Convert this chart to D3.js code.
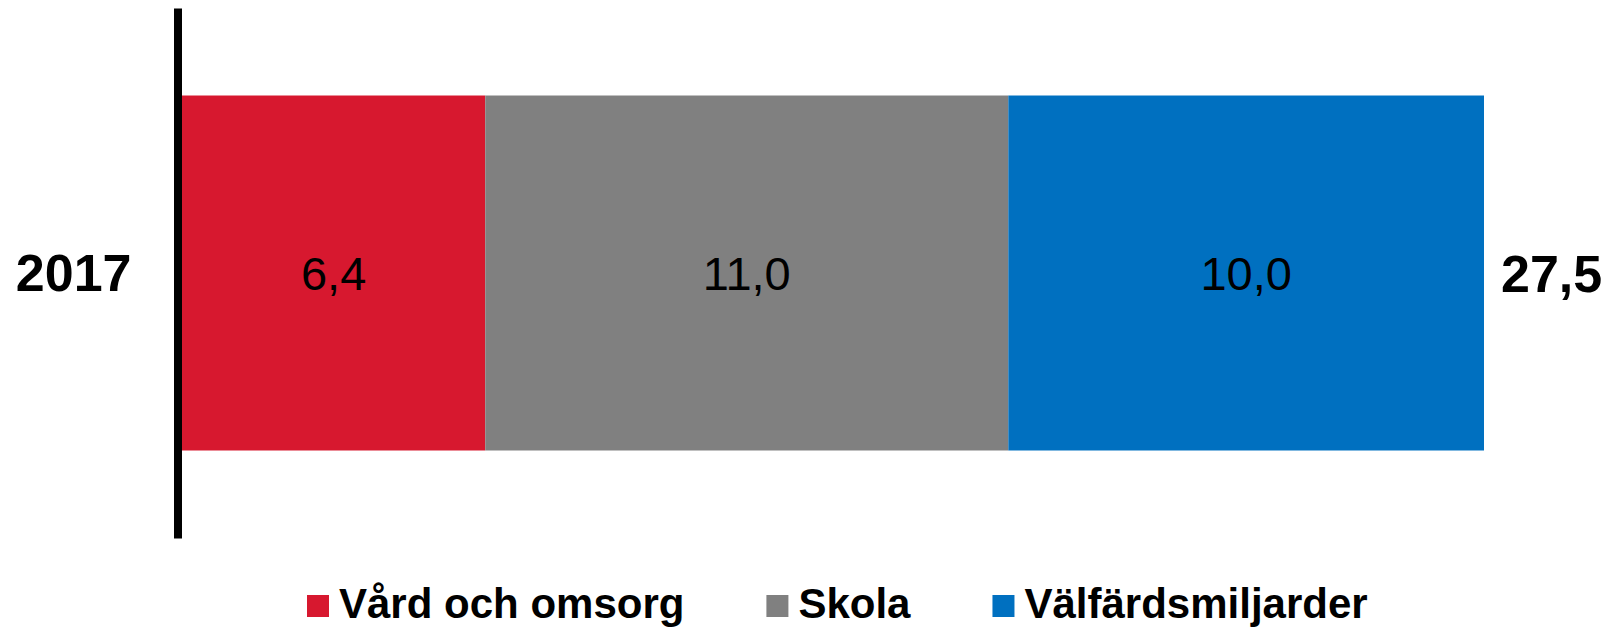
<!DOCTYPE html>
<html>
<head>
<meta charset="utf-8">
<script src="https://cdn.jsdelivr.net/npm/d3@7"></script>
<style>
    body { margin: 0; background: #fff; }
    svg { display: block; font-family: "Liberation Sans", Arial, sans-serif; }
    .axis path { stroke: #000; stroke-width: 8; }
    .axis text { font-size: 52px; font-weight: bold; fill: #000; }
</style>
</head>
<body>
<div id="chart"></div>
<script>
// Data
const years = ["2017"];
const seriesNames = ["Vård och omsorg", "Skola", "Välfärdsmiljarder"];
const seriesValues = [6.40, 11.04, 10.04];
const seriesColors = ["#D7182F", "#808080", "#0070C0"];

const width = 1612;
const height = 627;
const margin = {top: 8, right: 128, bottom: 89, left: 182};

const fmt = v => d3.format(".1f")(v).replace(".", ",");

const svg = d3.select("#chart")
    .append("svg")
    .attr("width", width)
    .attr("height", height);

// Stack the segments
let acc = 0;
const segments = seriesValues.map((v, i) => {
    const s = {name: seriesNames[i], year: years[0], x0: acc, x1: acc + v, value: v, color: seriesColors[i]};
    acc += v;
    return s;
});
const total = d3.sum(seriesValues);

// Scales
const xScale = d3.scaleLinear()
    .domain([0, total])
    .range([margin.left, width - margin.right]);

const yScale = d3.scaleBand()
    .domain(years)
    .range([margin.top, height - margin.bottom])
    .paddingInner(0)
    .paddingOuter(0.2465);

// Bars
svg.append("g")
    .selectAll("rect")
    .data(segments)
    .join("rect")
    .attr("x", d => xScale(d.x0))
    .attr("y", d => yScale(d.year))
    .attr("width", d => xScale(d.x1) - xScale(d.x0))
    .attr("height", yScale.bandwidth())
    .attr("fill", d => d.color);

// Value labels
svg.append("g")
    .selectAll("text")
    .data(segments)
    .join("text")
    .attr("x", d => (xScale(d.x0) + xScale(d.x1)) / 2)
    .attr("y", d => yScale(d.year) + yScale.bandwidth() / 2)
    .attr("dy", "0.37em")
    .attr("text-anchor", "middle")
    .attr("font-size", 47)
    .attr("fill", "#000")
    .text(d => fmt(d.value));

// Total label
svg.append("text")
    .attr("x", xScale(total) + 17)
    .attr("y", yScale(years[0]) + yScale.bandwidth() / 2)
    .attr("dy", "0.37em")
    .attr("font-size", 52)
    .attr("font-weight", "bold")
    .text(fmt(total));

// Category axis
const yAxis = d3.axisLeft(yScale).tickSize(0).tickSizeOuter(0).tickPadding(46);
svg.append("g")
    .attr("class", "axis")
    .attr("transform", `translate(${margin.left - 4.5},0)`)
    .call(yAxis)
    .call(g => g.selectAll("text").attr("dy", "0.35em"));

// Legend
const legend = svg.append("g").attr("transform", "translate(307,0)");
let lx = 0;
seriesNames.forEach((name, i) => {
    const item = legend.append("g").attr("transform", `translate(${lx},0)`);
    item.append("rect")
        .attr("x", 0)
        .attr("y", 595)
        .attr("width", 22)
        .attr("height", 22)
        .attr("fill", seriesColors[i]);
    const t = item.append("text")
        .attr("x", 32)
        .attr("y", 617.5)
        .attr("font-size", 42)
        .attr("font-weight", "bold")
        .text(name);
    lx += 32 + t.node().getComputedTextLength() + 82;
});
</script>
</body>
</html>
